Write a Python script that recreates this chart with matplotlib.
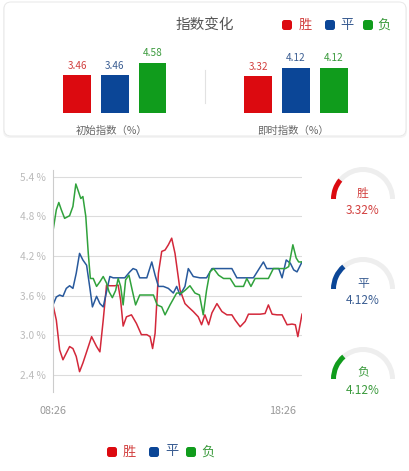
import numpy as np
import matplotlib
matplotlib.use("Agg")
import matplotlib.pyplot as plt
from matplotlib.patches import FancyBboxPatch

plt.rcParams['font.family'] = ['Noto Sans CJK SC', 'DejaVu Sans']

outcomes = ["胜", "平", "负"]
initial_index = [3.46, 3.46, 4.58]
live_index = [3.32, 4.12, 4.12]
group_names = ["初始指数（%）", "即时指数（%）"]
y_ticks = [2.4, 3.0, 3.6, 4.2, 4.8, 5.4]
time_labels = ["08:26", "18:26"]

# minutes after 08:26 and index (%)
win_t = [0, 8, 16, 24, 32, 40, 48, 56, 64, 72, 81, 93, 105, 113, 121, 129, 137, 149, 157, 163,
         169, 177, 189, 201, 213, 226, 234, 240, 246, 254, 262, 270, 278, 286, 294, 306, 318, 326, 338, 350,
         358, 366, 375, 383, 395, 407, 419, 431, 439, 451, 463, 471, 483, 499, 511, 519, 528, 540, 552, 564,
         576, 584, 590, 600]
win_v = [3.46, 3.23, 2.78, 2.63, 2.73, 2.83, 2.80, 2.68, 2.45, 2.58, 2.75, 2.98, 2.83, 2.75, 3.23, 3.76, 3.75, 3.75, 3.76, 3.53,
         3.14, 3.28, 3.31, 3.18, 3.01, 3.01, 2.98, 2.80, 3.03, 3.94, 4.27, 4.29, 4.37, 4.47, 4.24, 3.69, 3.48, 3.43, 3.36, 3.28,
         3.16, 3.31, 3.16, 3.34, 3.48, 3.36, 3.31, 3.31, 3.23, 3.13, 3.21, 3.32, 3.32, 3.32, 3.33, 3.46, 3.32, 3.31, 3.31, 3.16,
         3.17, 3.16, 2.98, 3.32]

draw_t = [0, 8, 16, 24, 32, 40, 48, 56, 64, 72, 81, 89, 95, 105, 113, 121, 129, 137, 145, 161,
          173, 185, 193, 201, 209, 226, 238, 246, 254, 266, 278, 290, 298, 306, 318, 326, 338, 354, 370, 383,
          403, 419, 431, 443, 459, 483, 495, 507, 515, 531, 544, 552, 562, 572, 580, 588, 600]
draw_v = [3.46, 3.58, 3.61, 3.59, 3.71, 3.75, 3.71, 3.94, 4.24, 4.14, 4.06, 3.71, 3.43, 3.59, 3.48, 3.43, 3.66, 3.89, 3.87, 3.87,
          3.87, 3.96, 4.01, 3.99, 3.87, 3.87, 4.11, 3.91, 3.74, 3.74, 3.71, 3.64, 3.74, 3.61, 3.74, 4.01, 3.89, 3.87, 3.87, 4.01,
          4.01, 4.01, 4.01, 3.87, 3.87, 3.87, 3.99, 4.11, 4.01, 4.01, 4.01, 3.87, 4.14, 4.09, 3.99, 3.96, 4.11]

loss_t = [0, 8, 14, 20, 28, 40, 48, 55, 60, 67, 72, 79, 85, 90, 97, 105, 113, 121, 129, 135,
          143, 151, 157, 163, 169, 175, 183, 191, 199, 209, 226, 242, 251, 262, 270, 282, 298, 310, 318, 330,
          342, 353, 362, 370, 378, 387, 399, 411, 427, 439, 459, 467, 477, 487, 507, 519, 531, 548, 560, 568,
          578, 586, 592, 600]
loss_v = [4.58, 4.90, 5.01, 4.90, 4.77, 4.81, 4.95, 5.29, 5.20, 5.07, 5.10, 4.80, 4.24, 3.86, 3.86, 3.74, 3.81, 3.89, 3.79, 3.66,
          3.57, 3.68, 3.86, 3.74, 3.46, 3.84, 3.91, 3.68, 3.46, 3.61, 3.61, 3.61, 3.46, 3.43, 3.31, 3.46, 3.64, 3.64, 3.68, 3.75,
          3.64, 3.61, 3.31, 3.68, 3.96, 4.01, 3.91, 3.86, 3.86, 3.74, 3.74, 3.86, 3.74, 3.86, 3.86, 3.86, 4.01, 4.01, 4.01, 4.04,
          4.37, 4.17, 4.11, 4.11]

gauge_max = 15.0

bar_colors = ["#dc0a10", "#0b4697", "#109c1c"]
line_colors = ["#d3283a", "#28599c", "#30a23c"]
text_colors = ["#d2403f", "#3a5d92", "#3a9a3c"]

W, H = 410, 471
fig = plt.figure(figsize=(W / 100, H / 100), dpi=100)


def px_axes(x0, y0, x1, y1, **kw):
    return fig.add_axes([x0 / W, 1 - y1 / H, (x1 - x0) / W, (y1 - y0) / H], **kw)


# overlay for card, legends and captions
ov = px_axes(0, 0, W, H)
ov.set_xlim(0, W)
ov.set_ylim(H, 0)
ov.axis('off')
ov.add_patch(FancyBboxPatch((3, 3), 404, 135, boxstyle="round,pad=0,rounding_size=7",
                            fc='#f4f4f4', ec='none'))
ov.add_patch(FancyBboxPatch((4, 2), 402, 134, boxstyle="round,pad=0,rounding_size=7",
                            fc='white', ec='#e8e8e8', lw=0.7))
ov.text(205, 25, "指数变化", fontsize=10.5, color='#555555', ha='center', va='center')
ov.plot([205, 205], [70, 103], color='#e2e2e2', lw=0.8)


def legend_row(xs_box, xs_txt, y):
    for i in range(3):
        ov.add_patch(FancyBboxPatch((xs_box[i] - 5, y - 5), 10, 10,
                                    boxstyle="round,pad=0,rounding_size=2.5",
                                    fc=bar_colors[i], ec='none'))
        ov.text(xs_txt[i], y, outcomes[i], fontsize=9.5, color=text_colors[i],
                ha='center', va='center')


legend_row([287, 330, 368], [305, 347, 384], 25)
legend_row([112, 154, 191], [129.5, 172, 208], 452)

# bar panel
bx = px_axes(39.3, 40, 371.4, 113)
pos_a = [0, 1, 2]
pos_b = [4.8, 5.8, 6.8]
bx.bar(pos_a, initial_index, width=0.74, color=bar_colors)
bx.bar(pos_b, live_index, width=0.74, color=bar_colors)
for pos, vals in [(pos_a, initial_index), (pos_b, live_index)]:
    for i in range(3):
        bx.annotate(f"{vals[i]:.2f}", (pos[i], vals[i]), xytext=(0, 6.7), textcoords='offset points',
                    ha='center', va='center', fontsize=7.2, color=text_colors[i])
for pos, name in [(pos_a, group_names[0]), (pos_b, group_names[1])]:
    bx.annotate(name, (np.mean(pos), 0), xytext=(-2, -13), textcoords='offset points',
                ha='center', va='center', fontsize=7.5, color='#666666')
bx.set_xlim(-1, 7.8)
bx.set_ylim(0, 73 / 11)
bx.axis('off')

# line panel
ax = px_axes(53, 170.1, 302, 391.5)
ax.plot(win_t, win_v, color=line_colors[0], lw=1.1, solid_joinstyle='round')
ax.plot(draw_t, draw_v, color=line_colors[1], lw=1.1, solid_joinstyle='round')
ax.plot(loss_t, loss_v, color=line_colors[2], lw=1.1, solid_joinstyle='round')
ax.set_xlim(0, 600)
ax.set_ylim(2.15, 5.5)
ax.set_yticks(y_ticks)
ax.set_yticklabels([f"{v:.1f} %" for v in y_ticks], fontsize=7.3, color='#bbbbbb')
ax.set_xticks([])
ax.tick_params(axis='y', length=0, pad=5)
ax.grid(axis='y', color='#dcdcdc', lw=0.8)
ax.set_axisbelow(True)
for s in ['top', 'right', 'bottom']:
    ax.spines[s].set_visible(False)
ax.spines['left'].set_color('#cccccc')
ax.spines['left'].set_linewidth(0.8)
ax.annotate(time_labels[0], (0, 0), xycoords=('data', 'axes fraction'), xytext=(0, -14),
            textcoords='offset points', ha='center', va='center', fontsize=7.8, color='#999999')
ax.annotate(time_labels[1], (600, 0), xycoords=('data', 'axes fraction'), xytext=(-4.3, -14),
            textcoords='offset points', ha='right', va='center', fontsize=7.8, color='#999999')

# gauges
for i, cy in enumerate([199, 289, 379]):
    gx = px_axes(363 - 40, cy - 40, 363 + 40, cy + 40, projection='polar')
    gx.set_theta_offset(np.pi)
    gx.set_theta_direction(-1)
    gx.bar(0, 5, width=np.pi, bottom=27, align='edge', color='#eeeeee')
    gx.bar(0, 5, width=np.pi * live_index[i] / gauge_max, bottom=27, align='edge', color=bar_colors[i])
    gx.set_ylim(0, 40)
    gx.axis('off')
    ov.text(363, cy - 6, outcomes[i], fontsize=8.5, color=text_colors[i], ha='center', va='center')
    ov.text(363, cy + 11, f"{live_index[i]:.2f}%", fontsize=8.5, color=text_colors[i],
            ha='center', va='center')

fig.savefig("out.png", dpi=100)
